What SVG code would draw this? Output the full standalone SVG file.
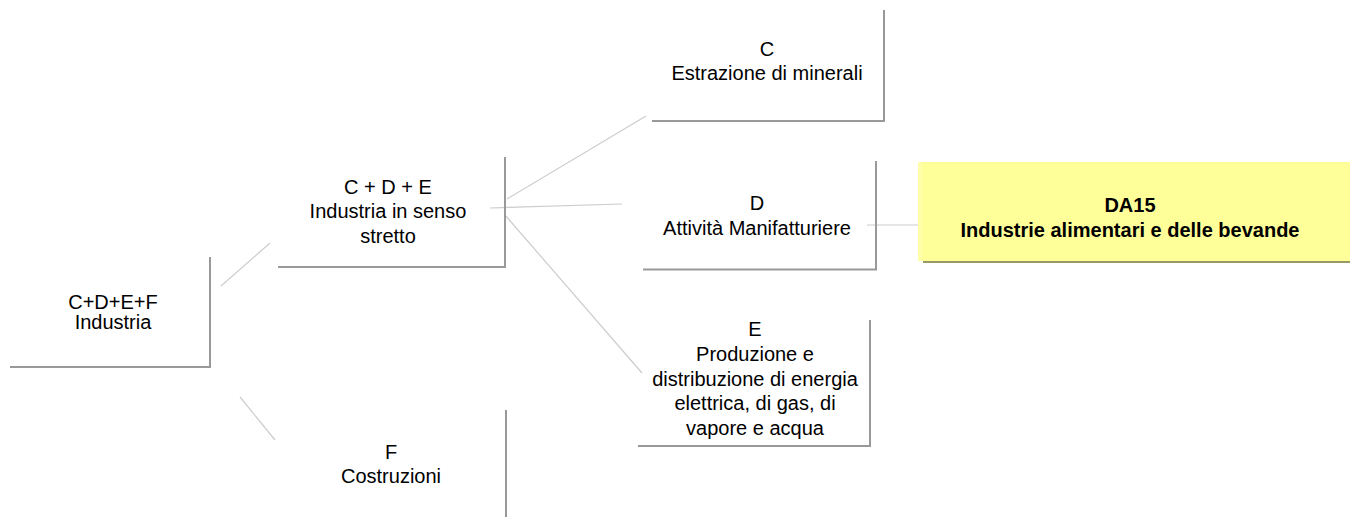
<svg xmlns="http://www.w3.org/2000/svg" width="1350" height="517" viewBox="0 0 1350 517">
<style>
.bd{stroke:#999999;stroke-width:2;fill:none}
.cn{stroke:#cccccc;stroke-width:1.2;fill:none}
text{font-family:"Liberation Sans",Arial,sans-serif;font-size:20px;fill:#000;text-anchor:middle}
.b{font-weight:bold}
</style>
<rect width="1350" height="517" fill="#ffffff"/>
<g id="connectors">
<line class="cn" x1="221" y1="286" x2="270" y2="243"/>
<line class="cn" x1="240" y1="397" x2="275" y2="440"/>
<line class="cn" x1="507" y1="199" x2="646" y2="116"/>
<line class="cn" x1="490" y1="208" x2="622" y2="204"/>
<line class="cn" x1="505" y1="215" x2="642" y2="373"/>
<line class="cn" x1="867" y1="225" x2="918" y2="225"/>
</g>
<g id="nodeA">
<path class="bd" d="M10,367 H210 V257"/>
<text x="113" y="309">C+D+E+F</text>
<text x="113" y="329">Industria</text>
</g>
<g id="nodeB">
<path class="bd" d="M278,267 H505 V157"/>
<text x="388" y="194">C + D + E</text>
<text x="388" y="218">Industria in senso</text>
<text x="388" y="243">stretto</text>
</g>
<g id="nodeC">
<path class="bd" d="M652,121 H884 V10"/>
<text x="767" y="56">C</text>
<text x="767" y="80">Estrazione di minerali</text>
</g>
<g id="nodeD">
<path class="bd" d="M643,269.5 H876 V161"/>
<text x="757" y="210">D</text>
<text x="757" y="235">Attività Manifatturiere</text>
</g>
<g id="nodeDA15">
<rect x="923" y="165" width="427" height="98" fill="#999966"/>
<rect x="918" y="162" width="432" height="99" fill="#ffff99"/>
<rect x="918" y="162" width="4" height="99" fill="#ffffaa"/>
<text class="b" x="1130" y="212">DA15</text>
<text class="b" x="1130" y="237">Industrie alimentari e delle bevande</text>
</g>
<g id="nodeE">
<path class="bd" d="M638,446 H870 V320"/>
<text x="755" y="336">E</text>
<text x="755" y="361">Produzione e</text>
<text x="755" y="386">distribuzione di energia</text>
<text x="755" y="410">elettrica, di gas, di</text>
<text x="755" y="435">vapore e acqua</text>
</g>
<g id="nodeF">
<path class="bd" d="M506,410 V517"/>
<text x="391" y="459">F</text>
<text x="391" y="483">Costruzioni</text>
</g>
</svg>
